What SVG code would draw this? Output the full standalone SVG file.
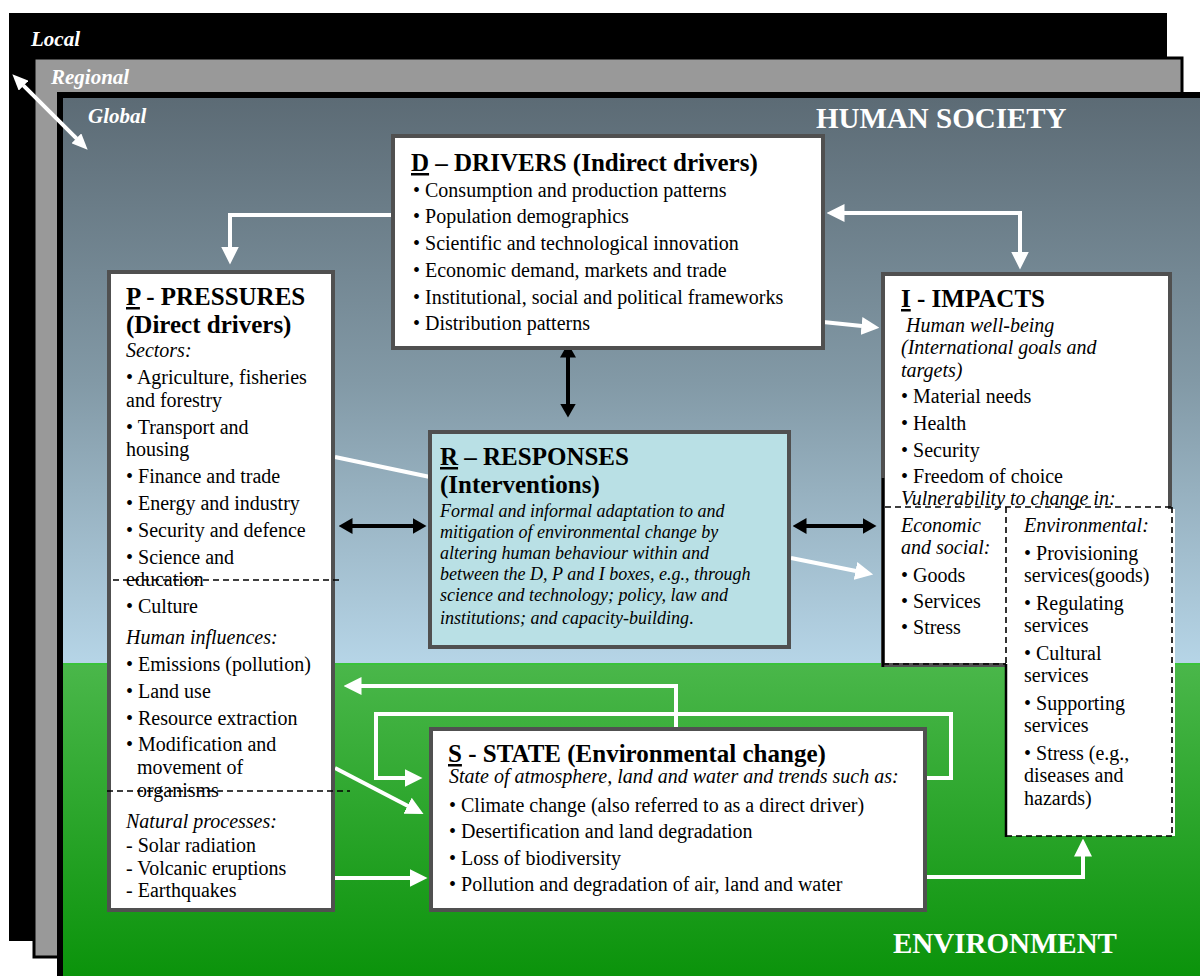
<svg xmlns="http://www.w3.org/2000/svg" width="1200" height="976" viewBox="0 0 1200 976">
<defs>
<linearGradient id="sky" x1="0" y1="98" x2="0" y2="664" gradientUnits="userSpaceOnUse">
<stop offset="0" stop-color="#5c6b75"/>
<stop offset="0.5" stop-color="#8299a6"/>
<stop offset="1" stop-color="#b6d5e7"/>
</linearGradient>
<linearGradient id="ground" x1="0" y1="664" x2="0" y2="976" gradientUnits="userSpaceOnUse">
<stop offset="0" stop-color="#4ab74a"/>
<stop offset="1" stop-color="#0b930b"/>
</linearGradient>
<marker id="wa" viewBox="0 0 18 18" refX="0.5" refY="9" markerWidth="18" markerHeight="18" markerUnits="userSpaceOnUse" orient="auto-start-reverse"><path d="M0,0L18,9L0,18z" fill="#fff"/></marker>
<marker id="sa" viewBox="0 0 16 14" refX="0.5" refY="7" markerWidth="16" markerHeight="14" markerUnits="userSpaceOnUse" orient="auto-start-reverse"><path d="M0,0L16,7L0,14z" fill="#fff"/></marker>
<marker id="ba" viewBox="0 0 14 16" refX="0.5" refY="8" markerWidth="14" markerHeight="16" markerUnits="userSpaceOnUse" orient="auto-start-reverse"><path d="M0,0L14,8L0,16z" fill="#000"/></marker>
</defs>
<style>
.t{font-family:"Liberation Serif","Times New Roman",serif;fill:#000}
.h{font-size:25px;font-weight:bold}
.b{font-size:20px}
.i{font-size:20px;font-style:italic}
.ri{font-size:18px;font-style:italic}
.box{fill:#fff;stroke:#505050;stroke-width:4}
.w{fill:none;stroke:#fff;stroke-width:4}
.k{fill:none;stroke:#000;stroke-width:4}
.dash{stroke:#000;stroke-width:1.6;stroke-dasharray:6 4;fill:none}
.solid{stroke:#000;stroke-width:2.5;fill:none}
.lbl{font-family:"Liberation Serif","Times New Roman",serif;fill:#fff;font-weight:bold}
.u{text-decoration:underline}
</style>

<g id="background">
<rect x="9" y="13" width="1158" height="928" fill="#000"/>
<rect x="34" y="58" width="1148" height="899" fill="#999" stroke="#000" stroke-width="3"/>
<rect x="57" y="92" width="1160" height="900" fill="#000"/>
<rect x="63" y="98" width="1150" height="566" fill="url(#sky)"/>
<rect x="63" y="664" width="1150" height="320" fill="url(#ground)"/>
<line x1="63" y1="664" x2="1200" y2="664" stroke="#3ac23a" stroke-width="2"/>
<text class="lbl" x="31" y="46" font-size="21" font-style="italic">Local</text>
<text class="lbl" x="51" y="84" font-size="21" font-style="italic">Regional</text>
<text class="lbl" x="88" y="123" font-size="21" font-style="italic">Global</text>
<text class="lbl" x="816" y="128" font-size="29">HUMAN SOCIETY</text>
<text class="lbl" x="893" y="953" font-size="29">ENVIRONMENT</text>
<path class="w" d="M23.3,85.3L76.7,138.7" marker-start="url(#sa)" marker-end="url(#sa)"/>
</g>

<g id="connectors">
<path class="w" d="M392,215H230V247" marker-end="url(#wa)"/>
<path class="w" d="M844,213H1020V252" marker-start="url(#wa)" marker-end="url(#wa)"/>
<path class="w" d="M823,322L862,326" marker-end="url(#wa)"/>
<path class="k" d="M568,357V404" marker-start="url(#ba)" marker-end="url(#ba)"/>
<path class="k" d="M352,526H413" marker-start="url(#ba)" marker-end="url(#ba)"/>
<path class="k" d="M806,526H863" marker-start="url(#ba)" marker-end="url(#ba)"/>
<path class="w" d="M335,457L430,477"/>
<path class="w" d="M791,558L856,571" marker-end="url(#wa)"/>
<path class="w" d="M676,728V686H361" marker-end="url(#wa)"/>
<path class="w" d="M926,778H951V714H376V778H405" marker-end="url(#wa)"/>
<path class="w" d="M335,768L408,806" marker-end="url(#wa)"/>
<path class="w" d="M335,878H410" marker-end="url(#wa)"/>
<path class="w" d="M926,877H1083V856" marker-end="url(#wa)"/>
</g>

<g id="node-D">
<rect class="box" x="393" y="136" width="430" height="212"/>
<text class="t h" x="411" y="171"><tspan class="u">D</tspan> – DRIVERS (Indirect drivers)</text>
<text class="t b" x="413" y="197">• Consumption and production patterns</text>
<text class="t b" x="413" y="223">• Population demographics</text>
<text class="t b" x="413" y="250">• Scientific and technological innovation</text>
<text class="t b" x="413" y="277">• Economic demand, markets and trade</text>
<text class="t b" x="413" y="304">• Institutional, social and political frameworks</text>
<text class="t b" x="413" y="330">• Distribution patterns</text>
</g>

<g id="node-P">
<rect class="box" x="109" y="272" width="224" height="638"/>
<text class="t h" x="126" y="305"><tspan class="u">P</tspan> - PRESSURES</text>
<text class="t h" x="126" y="333">(Direct drivers)</text>
<text class="t i" x="126" y="357">Sectors:</text>
<text class="t b" x="126" y="384">• Agriculture, fisheries</text>
<text class="t b" x="126" y="407">and forestry</text>
<text class="t b" x="126" y="434">• Transport and</text>
<text class="t b" x="126" y="456">housing</text>
<text class="t b" x="126" y="483">• Finance and trade</text>
<text class="t b" x="126" y="510">• Energy and industry</text>
<text class="t b" x="126" y="537">• Security and defence</text>
<text class="t b" x="126" y="564">• Science and</text>
<text class="t b" x="126" y="586">education</text>
<line class="dash" x1="113" y1="580" x2="342" y2="580"/>
<text class="t b" x="126" y="613">• Culture</text>
<text class="t i" x="126" y="644">Human influences:</text>
<text class="t b" x="126" y="671">• Emissions (pollution)</text>
<text class="t b" x="126" y="698">• Land use</text>
<text class="t b" x="126" y="725">• Resource extraction</text>
<text class="t b" x="126" y="751">• Modification and</text>
<text class="t b" x="137" y="774">movement of</text>
<text class="t b" x="137" y="797">organisms</text>
<line class="dash" x1="107" y1="791" x2="350" y2="791"/>
<text class="t i" x="126" y="828">Natural processes:</text>
<text class="t b" x="126" y="852">- Solar radiation</text>
<text class="t b" x="126" y="875">- Volcanic eruptions</text>
<text class="t b" x="126" y="897">- Earthquakes</text>
</g>

<g id="node-I">
<rect class="box" x="883" y="274" width="287" height="391"/>
<rect x="1006" y="509" width="169" height="327" fill="#fff"/>
<text class="t h" x="901" y="307"><tspan class="u">I</tspan> - IMPACTS</text>
<text class="t i" x="906" y="332">Human well-being</text>
<text class="t i" x="901" y="354">(International goals and</text>
<text class="t i" x="901" y="377">targets)</text>
<text class="t b" x="901" y="403">• Material needs</text>
<text class="t b" x="901" y="430">• Health</text>
<text class="t b" x="901" y="457">• Security</text>
<text class="t b" x="901" y="483">• Freedom of choice</text>
<text class="t i" x="901" y="505">Vulnerability to change in:</text>
<line class="dash" x1="885" y1="507" x2="1172" y2="507"/>
<line class="dash" x1="1172" y1="507" x2="1172" y2="836"/>
<line class="dash" x1="1006" y1="836" x2="1172" y2="836"/>
<line class="dash" x1="1006" y1="507" x2="1006" y2="664"/>
<line class="dash" x1="883" y1="664" x2="1006" y2="664"/>
<line class="solid" x1="883" y1="478" x2="883" y2="667"/>
<line class="solid" x1="1006" y1="664" x2="1006" y2="837"/>
<text class="t i" x="901" y="532">Economic</text>
<text class="t i" x="901" y="554">and social:</text>
<text class="t b" x="901" y="582">• Goods</text>
<text class="t b" x="901" y="608">• Services</text>
<text class="t b" x="901" y="634">• Stress</text>
<text class="t i" x="1024" y="532">Environmental:</text>
<text class="t b" x="1024" y="560">• Provisioning</text>
<text class="t b" x="1024" y="582">services(goods)</text>
<text class="t b" x="1024" y="610">• Regulating</text>
<text class="t b" x="1024" y="632">services</text>
<text class="t b" x="1024" y="660">• Cultural</text>
<text class="t b" x="1024" y="682">services</text>
<text class="t b" x="1024" y="710">• Supporting</text>
<text class="t b" x="1024" y="732">services</text>
<text class="t b" x="1024" y="760">• Stress (e.g.,</text>
<text class="t b" x="1024" y="782">diseases and</text>
<text class="t b" x="1024" y="805">hazards)</text>
</g>

<g id="node-R">
<rect class="box" x="430" y="432" width="359" height="215" fill="#b9e0e5" style="fill:#b9e0e5"/>
<text class="t h" x="440" y="465"><tspan class="u">R</tspan> – RESPONSES</text>
<text class="t h" x="440" y="493">(Interventions)</text>
<text class="t ri" x="440" y="517">Formal and informal adaptation to and</text>
<text class="t ri" x="440" y="538">mitigation of environmental change by</text>
<text class="t ri" x="440" y="559">altering human behaviour within and</text>
<text class="t ri" x="440" y="580">between the D, P and I boxes, e.g., through</text>
<text class="t ri" x="440" y="601">science and technology; policy, law and</text>
<text class="t ri" x="440" y="624">institutions; and capacity-building<tspan font-style="normal">.</tspan></text>
</g>

<g id="node-S">
<rect class="box" x="431" y="729" width="494" height="181"/>
<text class="t h" x="448" y="762"><tspan class="u">S</tspan> - STATE (Environmental change)</text>
<text class="t i" x="449" y="783">State of atmosphere, land and water and trends such as:</text>
<text class="t b" x="449" y="812">• Climate change (also referred to as a direct driver)</text>
<text class="t b" x="449" y="838">• Desertification and land degradation</text>
<text class="t b" x="449" y="865">• Loss of biodiversity</text>
<text class="t b" x="449" y="891">• Pollution and degradation of air, land and water</text>
</g>
</svg>
